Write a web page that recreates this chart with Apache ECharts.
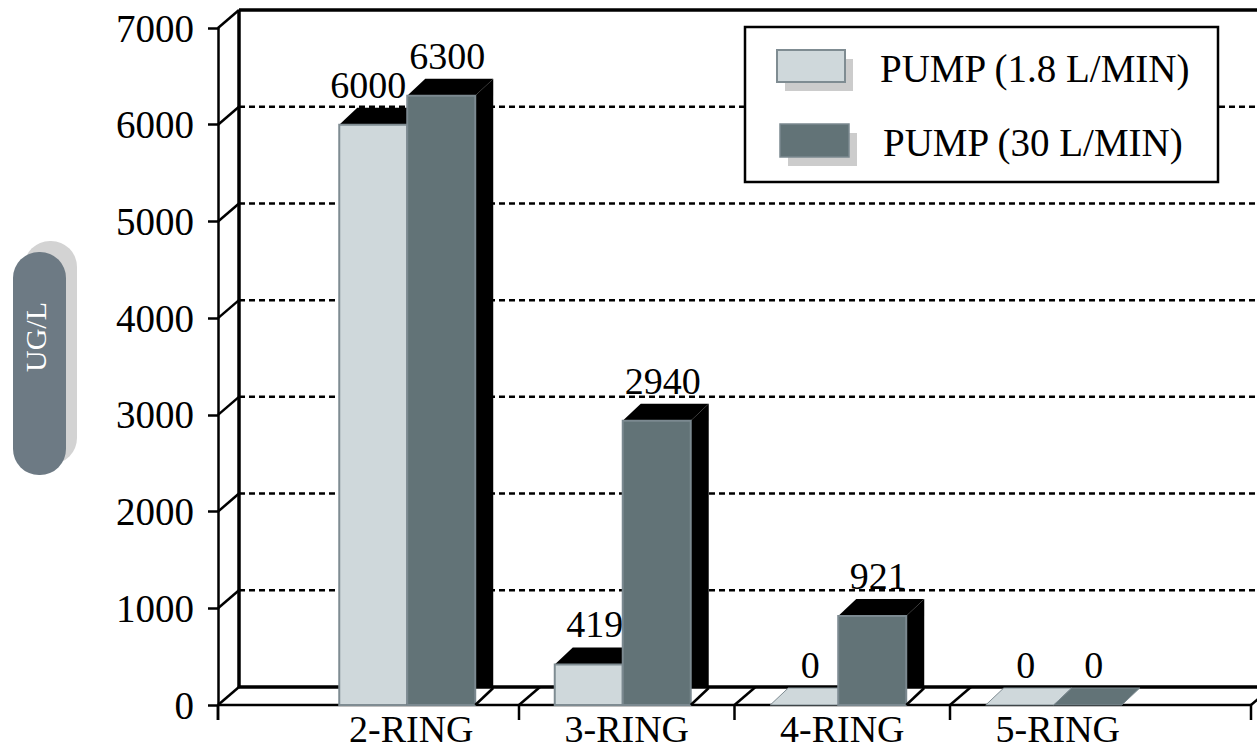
<!DOCTYPE html>
<html><head><meta charset="utf-8">
<script src="https://cdn.jsdelivr.net/npm/echarts@6/dist/echarts.min.js"></script>
<style>html,body{margin:0;padding:0;background:#fff}#c{width:1257px;height:753px}</style>
</head><body><div id="c"></div>
<script>
const categories = ['2-RING', '3-RING', '4-RING', '5-RING'];
const pumpLowValues = [6000, 419, 0, 0];
const pumpHighValues = [6300, 2940, 921, 0];
const seriesNames = ['PUMP (1.8 L/MIN)', 'PUMP (30 L/MIN)'];
const yTicks = [0, 1000, 2000, 3000, 4000, 5000, 6000, 7000];
const yAxisTitle = 'UG/L';

const FONT = 'Liberation Serif';
const DX = 21, DY = -18;     // wall depth
const BDX = 18, BDY = -17;   // bar depth
const AXIS_OFFSET = 85.5;
const BAR_W = 0.3155, BAR_SHIFT = -0.0186;
const COLORS = [{fill: '#cfd8db', stroke: '#7f8c92'}, {fill: '#627377', stroke: '#7b8990'}];

function frameItem(params, api) {
  const cs = params.coordSys;
  const ax = cs.x - AXIS_OFFSET;
  const rightEnd = cs.x + cs.width + AXIS_OFFSET;
  const farRight = 1500;
  const y0 = api.coord([0, yTicks[0]])[1];
  const yTop = api.coord([0, yTicks[yTicks.length - 1]])[1];
  const bw = api.size([1, 0])[0];
  const ch = [];
  const line = (x1, y1, x2, y2, w, dash) => ch.push({type: 'line', shape: {x1, y1, x2, y2},
    style: {stroke: '#000', lineWidth: w, lineDash: dash || null}});
  yTicks.forEach((t, i) => {
    const y = api.coord([0, t])[1];
    if (i > 0 && i < yTicks.length - 1) line(ax + DX, y + DY, farRight, y + DY, 2.5, [6, 4]);
    if (i > 0) line(ax, y, ax + DX, y + DY, 2.5);
  });
  line(ax + DX, yTop + DY, ax + DX, y0 + DY, 3.5);
  line(ax + DX, yTop + DY, farRight, yTop + DY, 3.5);
  line(ax + DX, y0 + DY, farRight, y0 + DY, 3.5);
  line(ax, y0, rightEnd, y0, 2.5);
  line(ax, y0, ax, y0 + 15, 2.5);
  const seps = [ax];
  for (let k = 1; k < categories.length; k++) seps.push(cs.x + k * bw);
  seps.push(rightEnd);
  seps.forEach(x => {
    line(x, y0, x + DX, y0 + DY, 2.5);
    line(x, y0, x, y0 + 15, 2.5);
  });
  return {type: 'group', children: ch};
}

function barRenderer(idx) {
  return function (params, api) {
    const cat = api.value(0), val = api.value(1);
    const c = api.coord([cat, 0]);
    const t = api.coord([cat, val]);
    const bw = api.size([1, 0])[0];
    const x0 = c[0] + BAR_SHIFT * bw + (idx === 0 ? -BAR_W * bw : 0);
    const x1 = x0 + BAR_W * bw;
    const yb = c[1], yt = t[1];
    const col = COLORS[idx];
    const ch = [];
    if (val > 0) {
      ch.push({type: 'polygon', shape: {points: [[x1, yt], [x1 + BDX, yt + BDY], [x1 + BDX, yb + DY], [x1, yb + DY]]}, style: {fill: '#000'}});
      ch.push({type: 'polygon', shape: {points: [[x0, yt], [x0 + BDX, yt + BDY], [x1 + BDX, yt + BDY], [x1, yt]]}, style: {fill: '#000'}});
      ch.push({type: 'rect', shape: {x: x0, y: yt, width: x1 - x0, height: yb - yt}, style: {fill: col.fill, stroke: col.stroke, lineWidth: 2}});
      ch.push({type: 'line', shape: {x1: x1, y1: yb, x2: x1 + BDX, y2: yb + BDY}, style: {stroke: '#000', lineWidth: 2.5}});
    } else {
      ch.push({type: 'polygon', shape: {points: [[x0, yb], [x0 + BDX, yb + BDY], [x1 + BDX, yb + BDY], [x1, yb]]}, style: {fill: col.fill, stroke: col.stroke, lineWidth: 1}});
    }
    const lx = (x0 + x1) / 2 + (idx === 0 && val > 5000 ? -5 : 6);
    ch.push({type: 'text', style: {text: String(val), x: lx, y: yt + BDY - 4, align: 'center', verticalAlign: 'bottom',
      fontSize: 38, fontFamily: FONT, fill: '#000'}});
    return {type: 'group', children: ch};
  };
}

const chart = echarts.init(document.getElementById('c'), null, {renderer: 'svg'});
chart.setOption({
  animation: false,
  backgroundColor: '#fff',
  grid: {left: 303.5, right: 91.5, top: 28, bottom: 48, containLabel: false},
  xAxis: {
    type: 'category', data: categories,
    axisLine: {show: false}, axisTick: {show: false}, splitLine: {show: false},
    axisLabel: {fontSize: 38, fontFamily: FONT, color: '#000', margin: 5}
  },
  yAxis: {
    type: 'value', min: yTicks[0], max: yTicks[yTicks.length - 1], interval: 1000,
    offset: AXIS_OFFSET,
    axisLine: {show: true, lineStyle: {color: '#000', width: 2.5}},
    axisTick: {show: true, length: 10, lineStyle: {color: '#000', width: 2.5}},
    splitLine: {show: false},
    axisLabel: {fontSize: 39, fontFamily: FONT, color: '#000', margin: 24, formatter: v => String(v)}
  },
  series: [
    {type: 'custom', name: 'frame', silent: true, clip: false, z: 1,
     renderItem: frameItem, data: [[0, 0]], encode: {x: 0, y: 1}},
    {type: 'custom', name: seriesNames[0], clip: false, z: 2,
     renderItem: barRenderer(0), data: pumpLowValues.map((v, i) => [i, v]), encode: {x: 0, y: 1}},
    {type: 'custom', name: seriesNames[1], clip: false, z: 3,
     renderItem: barRenderer(1), data: pumpHighValues.map((v, i) => [i, v]), encode: {x: 0, y: 1}}
  ],
  graphic: [
    {type: 'rect', z: 100, shape: {x: 24, y: 241, width: 53, height: 223, r: 26}, style: {fill: '#d3d3d3'}},
    {type: 'rect', z: 101, shape: {x: 13, y: 252, width: 53, height: 223, r: 26}, style: {fill: '#6d7a84'}},
    {type: 'text', z: 102, x: 35, y: 337, rotation: Math.PI / 2,
     style: {text: yAxisTitle, align: 'center', verticalAlign: 'middle', fontSize: 30, fontFamily: FONT, fill: '#fff'}},
    {type: 'rect', z: 100, shape: {x: 745, y: 27, width: 473, height: 155}, style: {fill: '#fff', stroke: '#000', lineWidth: 2.5}},
    {type: 'rect', z: 101, shape: {x: 785, y: 59, width: 68, height: 32}, style: {fill: '#cccccc'}},
    {type: 'rect', z: 102, shape: {x: 777, y: 50, width: 68, height: 32}, style: {fill: COLORS[0].fill, stroke: COLORS[0].stroke, lineWidth: 2}},
    {type: 'text', z: 102, x: 880, y: 68, style: {text: seriesNames[0], align: 'left', verticalAlign: 'middle', fontSize: 39, fontFamily: FONT, fill: '#000'}},
    {type: 'rect', z: 101, shape: {x: 788, y: 133, width: 69, height: 33}, style: {fill: '#cccccc'}},
    {type: 'rect', z: 102, shape: {x: 780, y: 124, width: 69, height: 33}, style: {fill: COLORS[1].fill, stroke: COLORS[1].stroke, lineWidth: 1.5}},
    {type: 'text', z: 102, x: 883, y: 142, style: {text: seriesNames[1], align: 'left', verticalAlign: 'middle', fontSize: 39, fontFamily: FONT, fill: '#000'}}
  ]
});
</script>
</body></html>
